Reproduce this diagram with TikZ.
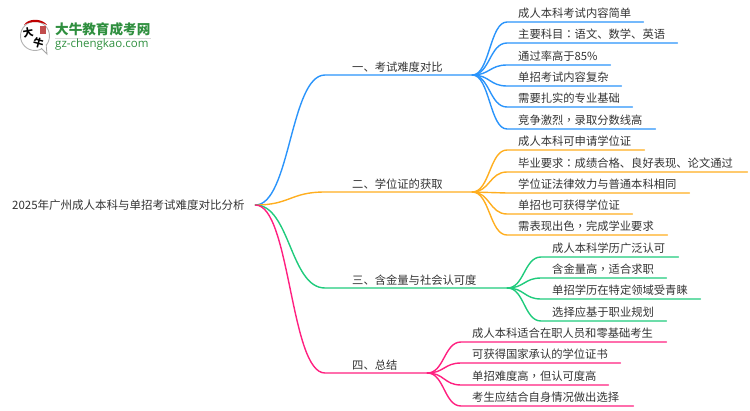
\documentclass[tikz,border=0pt]{standalone}
\usepackage{fontspec}
\usetikzlibrary{calc}
\setmainfont{Noto Sans CJK SC}
\newfontfamily\tcfont{Noto Sans CJK TC}
\newfontfamily\latinlogo{Open Sans}
\newcommand{\cc}{{\tcfont ，}}
\newcommand{\cl}{{\tcfont ：}}
\definecolor{bluec}{HTML}{2A94FB}
\definecolor{orangec}{HTML}{FFAE1F}
\definecolor{greenc}{HTML}{1FCB7C}
\definecolor{pinkc}{HTML}{FF2080}
\definecolor{txt}{HTML}{333333}
\definecolor{logogreen}{HTML}{2F8F3F}
\tikzset{
  x=1pt,y=-1pt,
  maptext/.style={anchor=south west,inner xsep=0pt,inner ysep=1.9pt,text height=9.2pt,text depth=2.2pt,
    font=\fontsize{11.3}{13}\selectfont,text=txt,align=left},
  branchtext/.style={maptext,inner ysep=0.8pt},
  rootnode/.style={anchor=west,inner sep=0pt,text width=243pt,font=\fontsize{11.5}{13}\selectfont,text=txt,align=left},
  branchline/.style={line width=1.4pt,line cap=round,line join=round}
}
\newcommand{\mapnode}[6]{\node[maptext,text width={(#3-#2)*1pt}] (#1) at (#2,#4) {\hspace*{#5pt}#6};}
\newcommand{\branchnode}[6]{\node[branchtext,text width={(#3-#2)*1pt}] (#1) at (#2,#4) {\hspace*{#5pt}#6};}
\newcommand{\conn}[3]{%
  \path let \p1=(#1), \p2=(#2.south west) in coordinate (c1) at ({0.5*(\x1+\x2)},\y1) coordinate (c2) at ({0.5*(\x1+\x2)},\y2);
  \draw[branchline,#3] (#1) .. controls (c1) and (c2) .. (#2.south west) -- (#2.south east);}
\begin{document}
\begin{tikzpicture}
\useasboundingbox (0,0) rectangle (750,410);
% logo
\draw[line width=0.9pt,black!30,fill=white] (35,36) circle[radius=14.5];
\draw[line width=0.8pt,black!35,fill=white] (41,48) -- (47,54) -- (46,44);
\fill[white] (40,44) -- (45.5,44) -- (45.5,49) -- (41.5,47.5) -- cycle;
\fill[red!75!black] (24,25) .. controls (28,18) and (42,18) .. (47,25) .. controls (40,21) and (30,21) .. (24,25) -- cycle;
\fill[red!65!black!70] (39.5,25.5) rectangle (45.5,34);
\node[inner sep=0pt,font=\fontsize{10.5}{11}\selectfont\bfseries,rotate=10] (logoa) at (28,32.5) {大};
\node[inner sep=0pt,font=\fontsize{10.5}{11}\selectfont\bfseries,rotate=-15] (logob) at (38.5,43) {牛};
\node[anchor=west,inner sep=0pt,font=\fontsize{13.6}{14}\selectfont\bfseries,text=logogreen] (logot) at (55,29.5) {大牛教育成考网};
\draw[black!15,line width=0.8pt] (logot.south west |- 0,38.5) -- (logot.south east |- 0,38.5);
\node[anchor=west,inner sep=0pt,font=\fontsize{11.5}{13}\latinlogo\selectfont,text=logogreen] (logou) at (55,44.5) {gz-chengkao.com};
% root
\node[rootnode] (root) at (12,205) {2025年广州成人本科与单招考试难度对比分析};
% branches
\branchnode{b1}{325}{472}{75}{27}{一、考试难度对比}
\branchnode{b2}{325}{472}{192}{27}{二、学位证的获取}
\branchnode{b3}{325}{507}{288}{27}{三、含金量与社会认可度}
\branchnode{b4}{325}{427}{373}{27}{四、总结}
\conn{root.east}{b1}{bluec}
\conn{root.east}{b2}{orangec}
\conn{root.east}{b3}{greenc}
\conn{root.east}{b4}{pinkc}
% blue leaves
\mapnode{a1}{507}{643}{22}{11}{成人本科考试内容简单}
\mapnode{a2}{507}{677}{43}{11}{主要科目\cl 语文、数学、英语}
\mapnode{a3}{507}{610}{65}{11}{通过率高于85\%}
\mapnode{a4}{507}{621}{86}{11}{单招考试内容复杂}
\mapnode{a5}{507}{632}{107}{11}{需要扎实的专业基础}
\mapnode{a6}{507}{655}{129}{11}{竞争激烈\cc 录取分数线高}
\foreach \lf in {a1,a2,a3,a4,a5,a6}{\conn{b1.south east}{\lf}{bluec}}
% orange leaves
\mapnode{o1}{507}{644}{150}{11}{成人本科可申请学位证}
\mapnode{o2}{507}{747}{172}{11}{毕业要求\cl 成绩合格、良好表现、论文通过}
\mapnode{o3}{507}{689}{193}{11}{学位证法律效力与普通本科相同}
\mapnode{o4}{507}{632}{214}{11}{单招也可获得学位证}
\mapnode{o5}{507}{667}{235}{11}{需表现出色\cc 完成学业要求}
\foreach \lf in {o1,o2,o3,o4,o5}{\conn{b2.south east}{\lf}{orangec}}
% green leaves
\mapnode{g1}{541}{678}{257}{11}{成人本科学历广泛认可}
\mapnode{g2}{541}{666}{278}{11}{含金量高\cc 适合求职}
\mapnode{g3}{541}{700}{299}{11}{单招学历在特定领域受青睐}
\mapnode{g4}{541}{666}{321}{11}{选择应基于职业规划}
\foreach \lf in {g1,g2,g3,g4}{\conn{b3.south east}{\lf}{greenc}}
% pink leaves
\mapnode{p1}{461}{666}{342}{11}{成人本科适合在职人员和零基础考生}
\mapnode{p2}{461}{620}{363}{11}{可获得国家承认的学位证书}
\mapnode{p3}{461}{608}{385}{11}{单招难度高\cc 但认可度高}
\mapnode{p4}{461}{633}{406}{11}{考生应结合自身情况做出选择}
\foreach \lf in {p1,p2,p3,p4}{\conn{b4.south east}{\lf}{pinkc}}
\end{tikzpicture}
\end{document}
